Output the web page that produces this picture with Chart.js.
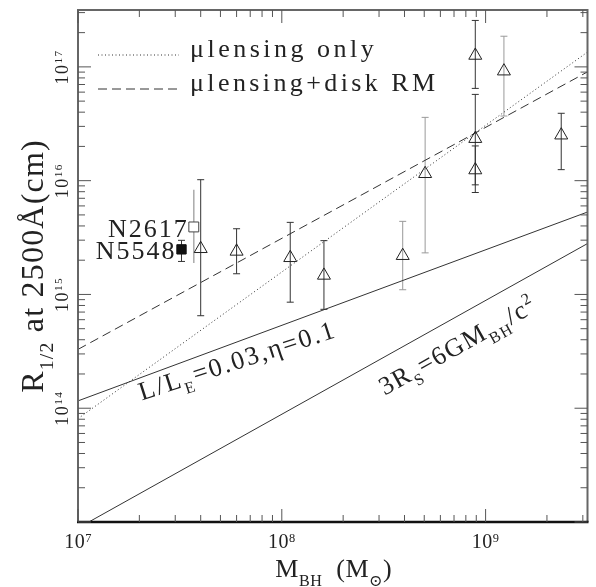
<!DOCTYPE html>
<html>
<head>
<meta charset="utf-8">
<script src="https://cdn.jsdelivr.net/npm/chart.js@4.4.1/dist/chart.umd.min.js"></script>
<style>
  html, body { margin: 0; padding: 0; background: #fff; }
  canvas { display: block; }
</style>
</head>
<body>
<canvas id="chart" width="596" height="587"></canvas>
<script>
// microlensing sizes (triangles) with error bars
const massTri = [4.0e7, 6.0e7, 1.10e8, 1.61e8, 3.92e8, 5.05e8, 8.9e8, 8.9e8, 8.9e8, 1.23e9, 2.35e9];
const radTri = [2.52e15, 2.39e15, 2.10e15, 1.47e15, 2.19e15, 1.15e16, 1.24e16, 2.34e16, 1.26e17, 9.17e16, 2.51e16];
const radTriLo = [6.5e14, 1.52e15, 8.55e14, 7.4e14, 1.10e15, 2.32e15, 9.19e15, 7.87e15, 6.47e16, 3.7e16, 1.25e16];
const radTriHi = [1.02e16, 3.78e15, 4.3e15, 2.97e15, 4.39e15, 3.6e16, 2.02e16, 5.73e16, 2.56e17, 1.86e17, 3.91e16];

// reverberation mapped AGN (squares)
const rmNames = ["N2617", "N5548"];
const rmMass = [3.70e7, 3.22e7];
const rmRad = [3.92e15, 2.49e15];
const rmRadLo = [1.89e15, 1.95e15];
const rmRadHi = [8.3e15, 2.99e15];

// model lines, values at both ends of the mass axis
const lineMass = [1e7, 3.162e9];
const radLensOnly = [8.1e13, 1.35e17];
const radLensRM = [3.29e14, 9.04e16];
const radEdd = [1.16e14, 5.3e15];
const radSchw = [8.85e12, 2.8e15];

const xDecades = [7, 8, 9];
const yDecades = [14, 15, 16, 17];

const FONT = '"Liberation Serif", "DejaVu Serif", serif';
const INK = "#222";
const greyBars = [4, 5, 9];

const pts = (xs, ys) => xs.map((x, i) => ({ x: x, y: ys[i] }));

// text with sub/superscripts: parts = [text, sizeFactor, dyEm]
function rich(ctx, parts, x, y, size, angle, align, spacing) {
    ctx.save();
    ctx.translate(x, y);
    ctx.rotate(angle);
    ctx.fillStyle = INK;
    ctx.textAlign = "left";
    ctx.textBaseline = "alphabetic";
    ctx.letterSpacing = spacing + "px";
    let total = 0;
    const segs = parts.map(([t, k, dy]) => {
        ctx.font = size * k + "px " + FONT;
        const w = ctx.measureText(t).width;
        total += w;
        return { t: t, f: ctx.font, dy: dy * size, w: w };
    });
    let cx = align === "center" ? -total / 2 : align === "right" ? -total : 0;
    segs.forEach((s) => {
        ctx.font = s.f;
        ctx.fillText(s.t, cx, s.dy);
        cx += s.w;
    });
    ctx.restore();
}

const decor = {
    id: "decor",
    beforeDatasetsDraw(chart) {
        const ctx = chart.ctx;
        const xs = chart.scales.x, ys = chart.scales.y;
        ctx.save();
        ctx.lineWidth = 1;
        // triangle error bars
        massTri.forEach((m, i) => {
            const px = xs.getPixelForValue(m);
            const y0 = ys.getPixelForValue(radTriLo[i]);
            const y1 = ys.getPixelForValue(radTriHi[i]);
            ctx.strokeStyle = greyBars.includes(i) ? "#999" : "#333";
            ctx.beginPath();
            ctx.moveTo(px, y0); ctx.lineTo(px, y1);
            ctx.moveTo(px - 3.5, y0); ctx.lineTo(px + 3.5, y0);
            ctx.moveTo(px - 3.5, y1); ctx.lineTo(px + 3.5, y1);
            ctx.stroke();
        });
        // N2617 (grey, no caps) and N5548 (capped)
        rmMass.forEach((m, i) => {
            const px = xs.getPixelForValue(m);
            const y0 = ys.getPixelForValue(rmRadLo[i]);
            const y1 = ys.getPixelForValue(rmRadHi[i]);
            ctx.strokeStyle = i === 0 ? "#aaa" : "#333";
            ctx.lineWidth = i === 0 ? 1.5 : 1;
            ctx.beginPath();
            ctx.moveTo(px, y0); ctx.lineTo(px, y1);
            if (i === 1) {
                ctx.moveTo(px - 3.5, y0); ctx.lineTo(px + 3.5, y0);
                ctx.moveTo(px - 3.5, y1); ctx.lineTo(px + 3.5, y1);
            }
            ctx.stroke();
        });
        ctx.restore();
    },
    afterDraw(chart) {
        const ctx = chart.ctx;
        const a = chart.chartArea;
        const xs = chart.scales.x, ys = chart.scales.y;
        ctx.save();

        // frame
        ctx.strokeStyle = "#666";
        ctx.lineWidth = 2;
        ctx.beginPath();
        ctx.moveTo(a.left, a.bottom); ctx.lineTo(a.left, a.top);
        ctx.lineTo(a.right, a.top); ctx.lineTo(a.right, a.bottom);
        ctx.stroke();
        ctx.strokeStyle = "#111";
        ctx.lineWidth = 2.5;
        ctx.beginPath();
        ctx.moveTo(a.left - 1, a.bottom); ctx.lineTo(a.right + 1, a.bottom);
        ctx.stroke();

        // inward ticks on all four sides
        ctx.strokeStyle = "#555";
        ctx.lineWidth = 1;
        ctx.beginPath();
        for (let k = 7; k <= 9; k++) {
            for (let j = 1; j <= 9; j++) {
                const v = j * Math.pow(10, k);
                if (v > xs.max) break;
                const px = xs.getPixelForValue(v);
                const len = j === 1 ? 13 : 7;
                ctx.moveTo(px, a.bottom); ctx.lineTo(px, a.bottom - len);
                ctx.moveTo(px, a.top); ctx.lineTo(px, a.top + len);
            }
        }
        for (let k = 13; k <= 17; k++) {
            for (let j = 1; j <= 9; j++) {
                const v = j * Math.pow(10, k);
                if (v > ys.max) break;
                const py = ys.getPixelForValue(v);
                const len = j === 1 ? 13 : 7;
                ctx.moveTo(a.left, py); ctx.lineTo(a.left + len, py);
                ctx.moveTo(a.right, py); ctx.lineTo(a.right - len, py);
            }
        }
        ctx.stroke();

        // tick labels
        xDecades.forEach((k) => {
            const px = xs.getPixelForValue(Math.pow(10, k));
            rich(ctx, [["10", 1, 0], [String(k), 0.62, -0.3]], px, a.bottom + 26, 20, 0, "center", 0.5);
        });
        yDecades.forEach((k) => {
            const py = ys.getPixelForValue(Math.pow(10, k));
            rich(ctx, [["10", 1, 0], [String(k), 0.62, -0.33]], a.left - 10, py, 18, -Math.PI / 2, "center", 1.5);
        });

        // axis titles
        rich(ctx, [["M", 1, 0], ["BH", 0.62, 0.35], ["  (M", 1, 0], ["\u2299", 0.62, 0.35], [")", 1, 0]],
            (a.left + a.right) / 2 + 1, a.bottom + 55, 26, 0, "center", 0.5);
        rich(ctx, [["R", 1, 0], ["1/2", 0.62, 0.3], [" at 2500\u00C5(cm)", 1, 0]],
            43, (a.top + a.bottom) / 2 + 0, 32, -Math.PI / 2, "center", 1.2);

        // legend
        ctx.strokeStyle = "#333";
        ctx.lineWidth = 1;
        ctx.setLineDash([1, 2.5]);
        ctx.beginPath();
        ctx.moveTo(a.left + 20, a.top + 45); ctx.lineTo(a.left + 101, a.top + 45);
        ctx.stroke();
        ctx.setLineDash([9, 5]);
        ctx.beginPath();
        ctx.moveTo(a.left + 20, a.top + 79); ctx.lineTo(a.left + 101, a.top + 79);
        ctx.stroke();
        ctx.setLineDash([]);
        rich(ctx, [["\u03BClensing only", 1, 0]], a.left + 112, a.top + 47, 26, 0, "left", 3.5);
        rich(ctx, [["\u03BClensing+disk RM", 1, 0]], a.left + 112, a.top + 81, 26, 0, "left", 3.4);

        // RM object names
        rmNames.forEach((n, i) => {
            const px = xs.getPixelForValue(rmMass[i]);
            const py = ys.getPixelForValue(rmRad[i]);
            rich(ctx, [[n, 1, 0]], px - 5, py + 10, 26, 0, "right", 2);
        });

        // line labels
        const onLine = (r, m) => {
            const x0 = xs.getPixelForValue(lineMass[0]), x1 = xs.getPixelForValue(lineMass[1]);
            const y0 = ys.getPixelForValue(r[0]), y1 = ys.getPixelForValue(r[1]);
            const px = xs.getPixelForValue(m);
            return { x: px, y: y0 + (y1 - y0) * (px - x0) / (x1 - x0), ang: Math.atan2(y1 - y0, x1 - x0) };
        };
        const e = onLine(radEdd, 2.05e7);
        ctx.save();
        ctx.translate(e.x, e.y);
        const ta = -18 * Math.PI / 180;
        ctx.rotate(ta);
        rich(ctx, [["L/L", 1, 0], ["E", 0.62, 0.3], ["=0.03,\u03B7=0.1", 1, 0]], -7, 22, 26, 0, "left", 2);
        ctx.restore();

        const s = onLine(radSchw, 3.2e8);
        ctx.save();
        ctx.translate(s.x, s.y);
        ctx.rotate(s.ang);
        rich(ctx, [["3R", 1, 0], ["S", 0.62, 0.3], ["=6GM", 1, 0], ["BH", 0.62, 0.3], ["/c", 1, 0], ["2", 0.62, -0.4]],
            -19, 34, 26, 0, "left", 1.5);
        ctx.restore();

        ctx.restore();
    },
};

new Chart(document.getElementById("chart"), {
    type: "scatter",
    data: {
        datasets: [
            {
                data: pts(massTri, radTri),
                pointStyle: "triangle",
                pointRadius: 7.5,
                borderWidth: 1,
                borderColor: "#222",
                backgroundColor: "rgba(0,0,0,0)",
            },
            {
                data: pts([rmMass[0]], [rmRad[0]]),
                pointStyle: "rect",
                pointRadius: 7,
                borderWidth: 1,
                borderColor: "#444",
                backgroundColor: "#fff",
            },
            {
                data: pts([rmMass[1]], [rmRad[1]]),
                pointStyle: "rect",
                pointRadius: 6.6,
                borderWidth: 1,
                borderColor: "#111",
                backgroundColor: "#111",
            },
            {
                data: pts(lineMass, radLensOnly),
                showLine: true, pointRadius: 0, borderWidth: 1,
                borderColor: "#333", borderDash: [1, 2.5],
            },
            {
                data: pts(lineMass, radLensRM),
                showLine: true, pointRadius: 0, borderWidth: 1,
                borderColor: "#333", borderDash: [9, 5],
            },
            {
                data: pts(lineMass, radEdd),
                showLine: true, pointRadius: 0, borderWidth: 1, borderColor: "#333",
            },
            {
                data: pts(lineMass, radSchw),
                showLine: true, pointRadius: 0, borderWidth: 1, borderColor: "#333",
            },
        ],
    },
    options: {
        responsive: false,
        animation: false,
        events: [],
        layout: { padding: { top: 10, right: 6, left: 0, bottom: 0 } },
        plugins: { legend: { display: false }, tooltip: { enabled: false } },
        scales: {
            x: {
                type: "logarithmic",
                min: 1e7,
                max: 3.1623e9,
                ticks: { display: false },
                grid: { display: false },
                border: { display: false },
                afterFit: (s) => { s.height = 65; },
            },
            y: {
                type: "logarithmic",
                min: 1e13,
                max: 3.1623e17,
                ticks: { display: false },
                grid: { display: false },
                border: { display: false },
                afterFit: (s) => { s.width = 78; },
            },
        },
    },
    plugins: [decor],
});
</script>
</body>
</html>
